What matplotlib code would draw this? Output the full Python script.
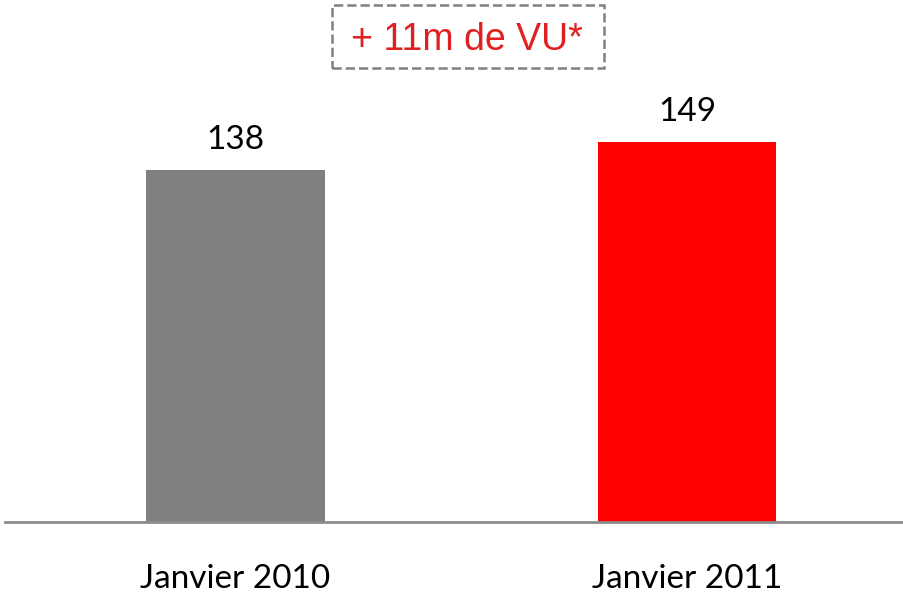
import matplotlib.pyplot as plt
from matplotlib.patches import Rectangle

categories = ['Janvier 2010', 'Janvier 2011']
values = [138, 149]
colors = ['#808080', '#ff0000']
note = '+ 11m de VU*'

W, H = 904, 599
fig = plt.figure(figsize=(W / 100, H / 100), dpi=100)
ax = fig.add_axes([5 / W, 77 / H, 899 / W, 522 / H])

x = list(range(len(categories)))
bars = ax.bar(x, values, width=0.396, color=colors)

for b, v in zip(bars, values):
    ax.text(b.get_x() + b.get_width() / 2, v + 6, str(v), ha='center', va='bottom',
            fontsize=24, family='Lato', color='black')

ax.set_xlim(-0.5105, 1.4806)
ax.set_ylim(0, 204.7)
ax.set_xticks(x)
ax.set_xticklabels(categories, fontsize=24, family='Lato')
ax.tick_params(axis='x', length=0, pad=30)
ax.set_yticks([])
for s in ['top', 'left', 'right']:
    ax.spines[s].set_visible(False)
ax.spines['bottom'].set_color('#8c8c8c')
ax.spines['bottom'].set_linewidth(2)

# dashed note box
fig.patches.append(Rectangle((332 / W, 1 - 68 / H), 272 / W, 63 / H,
                             transform=fig.transFigure, facecolor='white',
                             edgecolor='#808080', linestyle='--', linewidth=1.8))
fig.text(467 / W, 1 - 50 / H, note, ha='center', va='baseline', fontsize=27,
         family='Liberation Sans', color='#e02020')

plt.savefig('out.png', dpi=100)
